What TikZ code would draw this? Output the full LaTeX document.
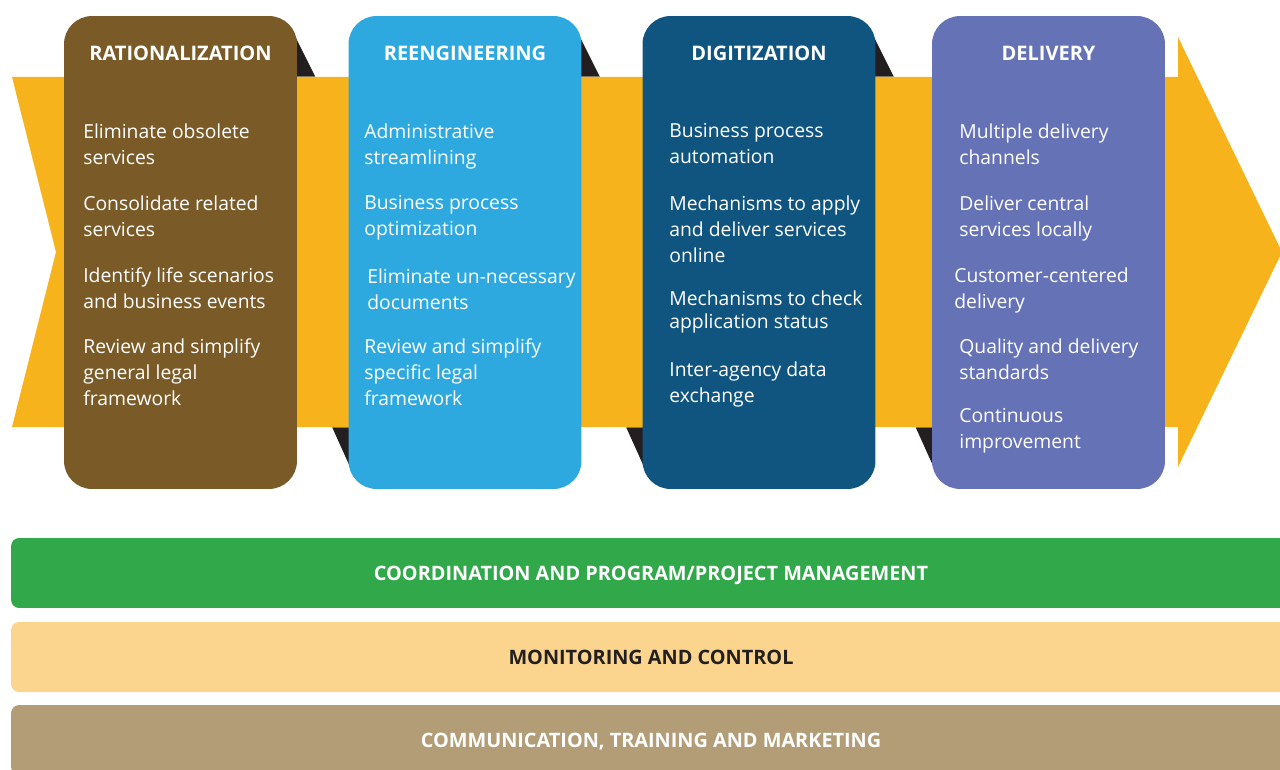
\documentclass[tikz,border=0pt]{standalone}
\usepackage{fontspec}
\setmainfont{Open Sans}
\usetikzlibrary{calc}
\definecolor{arrowyellow}{HTML}{F7B31B}
\definecolor{ratbrown}{HTML}{7A5A27}
\definecolor{reengblue}{HTML}{2EA9DF}
\definecolor{digitnavy}{HTML}{10557F}
\definecolor{delivblue}{HTML}{6572B6}
\definecolor{foldblack}{HTML}{231F20}
\definecolor{coordgreen}{HTML}{31A84A}
\definecolor{monitorange}{HTML}{FBD48E}
\definecolor{commtan}{HTML}{B29D77}
\begin{document}
\begin{tikzpicture}[x=0.02cm,y=-0.02cm,
  stage/.style={rounded corners=0.56cm,minimum width=4.66cm,minimum height=9.46cm,inner sep=0pt},
  ttl/.style={text=white,font=\bfseries\fontsize{11.4}{13}\selectfont,inner sep=0pt,text depth=0pt},
  item/.style={anchor=north west,align=left,inner sep=0pt,text=white,font=\fontsize{11}{14.8}\selectfont},
  band/.style={rounded corners=0.16cm,minimum width=25.6cm,minimum height=1.4cm,inner sep=0pt,
               text depth=0pt,font=\bfseries\fontsize{11.3}{13}\selectfont},
  fold/.style={fill=foldblack}]
\clip (0,0) rectangle (1280,770);
% stages
\node[stage] (rat)   at (180.5,252.5) {};
\node[stage] (reeng) at (465,252.5)   {};
\node[stage] (digit) at (759,252.5)   {};
\node[stage] (deliv) at (1048.5,252.5) {};
% folds behind the stages
\foreach \s in {rat,reeng,digit}
  \fill[fold] ($(\s.north east)+(-5.5,14)$) -- ($(\s.north east)+(18,61)$) -- ($(\s.north east)+(-13,61)$) -- cycle;
\foreach \s in {reeng,digit,deliv}
  \fill[fold] ($(\s.south west)+(-16,-62)$) -- ($(\s.south west)+(7,-11)$) -- ($(\s.south west)+(14,-62)$) -- cycle;
% big arrow
\fill[arrowyellow] (12,77) -- (1178,77) -- (1178,37) -- (1282,252) -- (1178,467) -- (1178,427)
  -- (12,427) -- (56,252) -- cycle;
\node[stage,fill=ratbrown]   at (rat)   {};
\node[stage,fill=reengblue]  at (reeng) {};
\node[stage,fill=digitnavy]  at (digit) {};
\node[stage,fill=delivblue]  at (deliv) {};
\node[ttl] (rat-t)   at ($(rat.north)+(0,38)$)   {RATIONALIZATION};
\node[ttl] (reeng-t) at ($(reeng.north)+(0,38)$) {REENGINEERING};
\node[ttl] (digit-t) at ($(digit.north)+(0,38)$) {DIGITIZATION};
\node[ttl] (deliv-t) at ($(deliv.north)+(0,38)$) {DELIVERY};
% rationalization
\node[item] (rat1) at (83,123) {Eliminate obsolete\\services};
\node[item] (rat2) at (83,195) {Consolidate related\\services};
\node[item] (rat3) at (83,267) {Identify life scenarios\\and business events};
\node[item] (rat4) at (83,338) {Review and simplify\\general legal\\framework};
% reengineering
\node[item] (reeng1) at (364,123) {Administrative\\streamlining};
\node[item] (reeng2) at (364,195) {Business process\\optimization};
\node[item] (reeng3) at (367,268) {Eliminate un-necessary\\documents};
\node[item] (reeng4) at (364,338) {Review and simplify\\specific legal\\framework};
% digitization
\node[item] (digit1) at (669,123) {Business process\\automation};
\node[item] (digit2) at (669,195) {Mechanisms to apply\\and deliver services\\online};
\node[item] (digit3) at (669,290) {Mechanisms to check\\[-1.7pt]application status};
\node[item] (digit4) at (669,361) {Inter-agency data\\exchange};
% delivery
\node[item] (deliv1) at (959,123) {Multiple delivery\\channels};
\node[item] (deliv2) at (959,195) {Deliver central\\services locally};
\node[item] (deliv3) at (954,267) {Customer-centered\\delivery};
\node[item] (deliv4) at (959,338) {Quality and delivery\\standards};
\node[item] (deliv5) at (959,408) {Continuous\\improvement};
% supporting layers
\node[band,fill=coordgreen,text=white]   (coord) at (651,573) {COORDINATION AND PROGRAM/PROJECT MANAGEMENT};
\node[band,fill=monitorange,text=foldblack] (monit) at (651,657) {MONITORING AND CONTROL};
\node[band,fill=commtan,text=white]      (comm)  at (651,740) {COMMUNICATION, TRAINING AND MARKETING};
\end{tikzpicture}
\end{document}
